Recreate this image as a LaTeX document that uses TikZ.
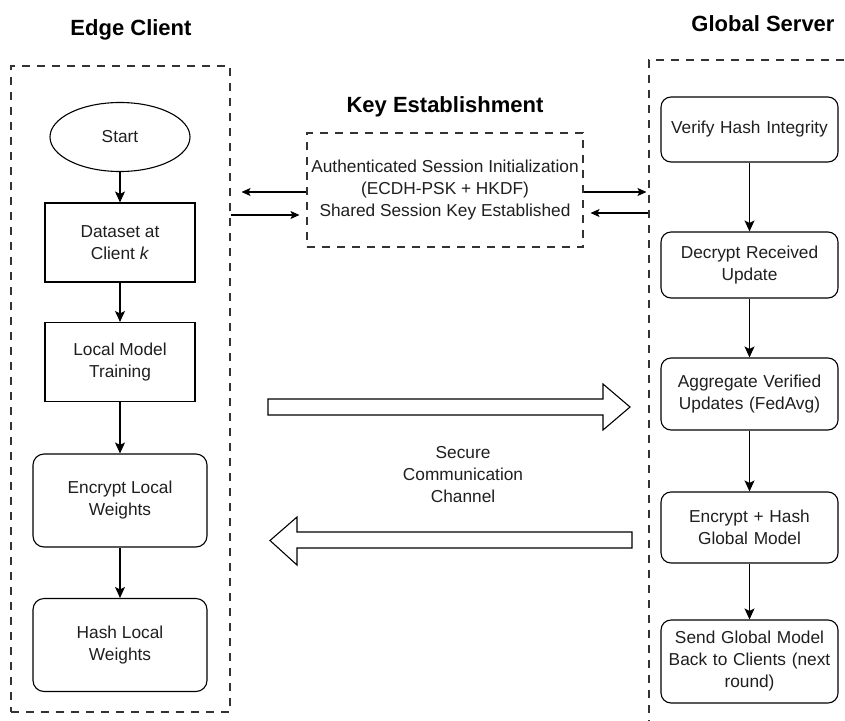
\documentclass[tikz,border=0pt]{standalone}
\usepackage{fontspec}
\setmainfont{Liberation Sans}
\usetikzlibrary{arrows.meta,shapes.geometric}
\begin{document}
\begin{tikzpicture}[x=1pt,y=-1pt,
 every node/.style={font=\fontsize{17.3}{22}\selectfont, text=black!88},
 proc/.style={draw, line width=1.1pt, minimum width=150pt, minimum height=79pt, align=center, inner sep=2pt},
 rproc/.style={proc, rounded corners=11pt, minimum width=174pt, minimum height=93pt},
 sproc/.style={proc, rounded corners=10pt, minimum width=175pt, text width=173pt},
 dashbox/.style={draw=black!80, line width=1.1pt, dash pattern=on 8pt off 7pt},
 titletext/.style={font=\fontsize{22}{26}\selectfont\bfseries, text=black},
 arr/.style={-{Stealth[length=11pt,width=10pt,inset=2.5pt]}, line width=1.1pt},
 sarr/.style={-{Stealth[length=9pt,width=8pt,inset=2pt]}, line width=1.1pt},
 block/.style={draw, line width=1.1pt, fill=white}
]
\clip (0,0) rectangle (845,720);
\fill[white] (0,0) rectangle (845,720);

% titles
\node[titletext] (tclient) at (131,30) {Edge Client};
\node[titletext] (tkey) at (445,107) {Key Establishment};
\node[titletext] (tserver) at (763,24) {Global Server};

% containers
\node[dashbox, minimum width=219pt, minimum height=646pt, inner sep=0pt] (client) at (120.5,389) {};
\node[dashbox, minimum width=215pt, minimum height=680pt, inner sep=0pt] (server) at (756.5,400) {};
\node[dashbox, minimum width=276pt, minimum height=114pt, inner sep=0pt, align=center] (kbox) at (445,190)
  {Authenticated Session Initialization\\(ECDH-PSK + HKDF)\\Shared Session Key Established};

% client flow
\node[draw, ellipse, line width=1.1pt, minimum width=140pt, minimum height=69pt, inner sep=0pt] (start) at (120,137) {Start};
\node[proc] (data) at (120,242.5) {Dataset at\\Client \textit{k}};
\node[proc] (train) at (120,362) {Local Model\\Training};
\node[rproc] (enc) at (120,500.5) {Encrypt Local\\Weights};
\node[rproc] (hash) at (120,645) {Hash Local\\Weights};

\draw[arr] (start) -- (data);
\draw[arr] (data) -- (train);
\draw[arr] (train) -- (enc);
\draw[arr] (enc) -- (hash);

% server flow
\node[sproc, minimum height=65pt] (verify) at (749.5,129.5) {Verify Hash Integrity};
\node[sproc, minimum height=66pt] (decrypt) at (749.5,265) {Decrypt Received\\Update};
\node[sproc, minimum height=72pt] (aggr) at (749.5,394) {Aggregate Verified\\Updates (FedAvg)};
\node[sproc, minimum height=71pt] (ench) at (749.5,527.5) {Encrypt + Hash\\Global Model};
\node[sproc, minimum height=83pt] (send) at (749.5,661.5) {Send Global Model\\Back to Clients (next\\round)};

\draw[arr] (verify) -- (decrypt);
\draw[arr] (decrypt) -- (aggr);
\draw[arr] (aggr) -- (ench);
\draw[arr] (ench) -- (send);

% key establishment arrows
\draw[sarr, shorten >=11pt] ([yshift=-2pt]kbox.west) -- ([yshift=-2pt]kbox.west -| client.east);
\draw[sarr, shorten >=7pt] ([yshift=-25pt]client.east |- kbox.west) -- ([yshift=-25pt]kbox.west);
\draw[sarr, shorten >=2pt] ([yshift=-2pt]kbox.east) -- ([yshift=-2pt]kbox.east -| server.west);
\draw[sarr, shorten >=7pt] ([yshift=-23pt]server.west |- kbox.east) -- ([yshift=-23pt]kbox.east);

% secure channel block arrows
\draw[block] (268,399) -- (603,399) -- (603,384) -- (630,407) -- (603,430) -- (603,415) -- (268,415) -- cycle;
\draw[block] (632,532) -- (297,532) -- (297,517) -- (270,540.5) -- (297,565) -- (297,548) -- (632,548) -- cycle;
\node[align=center] (chan) at (463,475) {Secure\\Communication\\Channel};

\end{tikzpicture}
\end{document}
